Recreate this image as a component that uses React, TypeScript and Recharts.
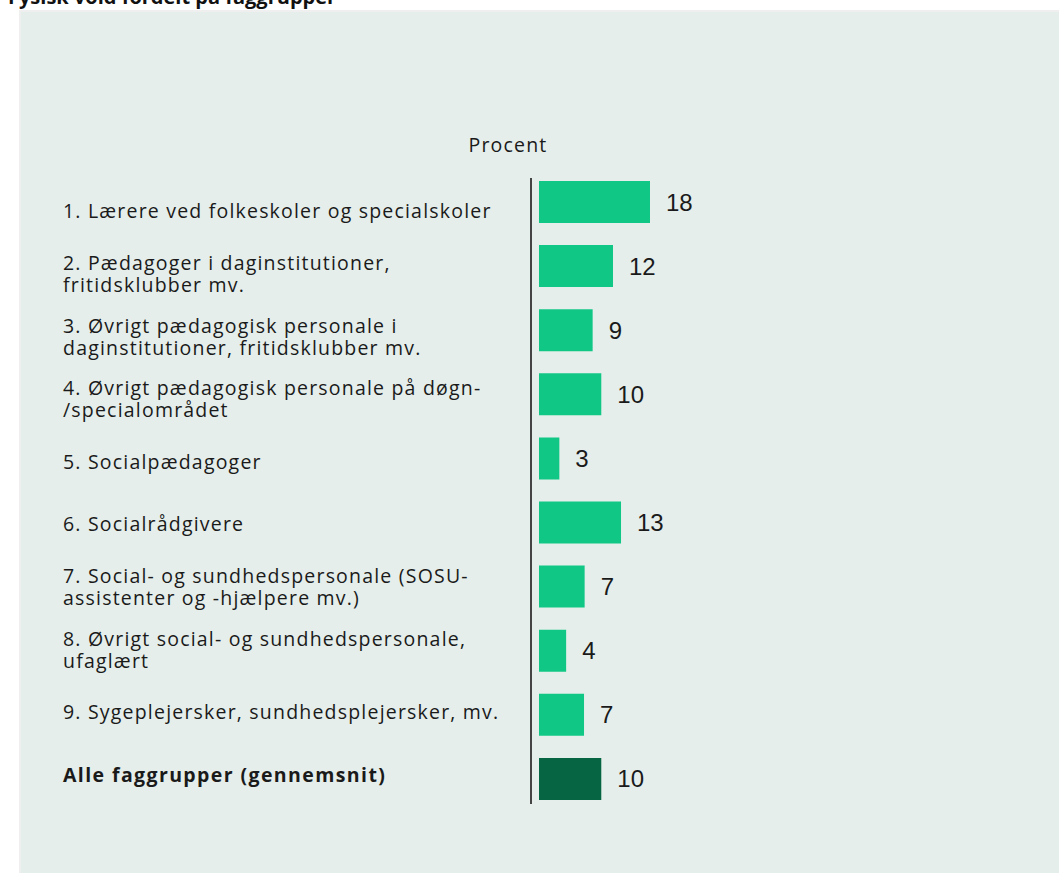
import { BarChart, Bar, XAxis, YAxis, Cell, LabelList } from "recharts";

const categories = [
  "1. Lærere ved folkeskoler og specialskoler",
  "2. Pædagoger i daginstitutioner,\nfritidsklubber mv.",
  "3. Øvrigt pædagogisk personale i\ndaginstitutioner, fritidsklubber mv.",
  "4. Øvrigt pædagogisk personale på døgn-\n/specialområdet",
  "5. Socialpædagoger",
  "6. Socialrådgivere",
  "7. Social- og sundhedspersonale (SOSU-\nassistenter og -hjælpere mv.)",
  "8. Øvrigt social- og sundhedspersonale,\nufaglært",
  "9. Sygeplejersker, sundhedsplejersker, mv.",
  "Alle faggrupper (gennemsnit)",
];

const values = [18.0, 12.0, 8.7, 10.1, 3.3, 13.3, 7.4, 4.4, 7.3, 10.1];

const valueLabels = ["18", "12", "9", "10", "3", "13", "7", "4", "7", "10"];

const data = categories.map((c, i) => ({
  name: c,
  value: values[i],
  label: valueLabels[i],
}));

const GREEN = "#10c785";
const DARK = "#066643";
const FONT = "'Open Sans', 'Noto Sans', sans-serif";

function CategoryTick(props: any) {
  const { y, payload, index } = props;
  const lines = String(payload.value).split("\n");
  const bold = index === categories.length - 1;
  const lh = 22;
  // labels sit on a slightly tighter grid than the bars
  const cy = 490.5 + (y - 490.5) * (62.6 / 64.1) + 2;
  const startY = cy - ((lines.length - 1) * lh) / 2;
  return (
    <g>
      {lines.map((l, i) => (
        <text
          key={i}
          x={63}
          y={startY + i * lh}
          textAnchor="start"
          dominantBaseline="central"
          fontFamily={FONT}
          fontSize={19.5}
          letterSpacing={bold ? 1.4 : 1.2}
          fontWeight={bold ? 700 : 400}
          fill="#1a1a1a"
        >
          {l}
        </text>
      ))}
    </g>
  );
}

export default function App() {
  return (
    <div style={{ position: "absolute", left: 0, top: 0, width: 1059, height: 873, background: "#fff", overflow: "hidden" }}>
      <div
        style={{
          position: "absolute",
          left: 8,
          top: -17,
          fontFamily: FONT,
          fontWeight: 700,
          fontSize: 20,
          color: "#111",
          whiteSpace: "nowrap",
        }}
      >
        Fysisk vold fordelt på faggrupper
      </div>
      <div
        style={{
          position: "absolute",
          left: 19,
          top: 10,
          width: 1040,
          height: 863,
          background: "#e5eeeb",
          borderTop: "2px solid #efefef",
          borderLeft: "2px solid #efefef",
          boxSizing: "border-box",
        }}
      />
      <div
        style={{
          position: "absolute",
          left: 438,
          top: 131,
          width: 140,
          textAlign: "center",
          fontFamily: FONT,
          fontSize: 19.5,
          letterSpacing: 1.2,
          color: "#1a1a1a",
        }}
      >
        Procent
      </div>
      <div
        style={{
          position: "absolute",
          left: 530,
          top: 178,
          width: 2,
          height: 626,
          background: "#444",
        }}
      />
      <div style={{ position: "absolute", left: 0, top: 0 }}>
        <BarChart
          width={1059}
          height={873}
          data={data}
          layout="vertical"
          margin={{ top: 170, right: 335, bottom: 62, left: 0 }}
        >
          <XAxis type="number" hide domain={[0, 30]} padding={{ left: 8, right: 0 }} />
          <YAxis
            type="category"
            dataKey="name"
            width={531}
            axisLine={false}
            tickLine={false}
            tick={<CategoryTick />}
            interval={0}
          />
          <Bar dataKey="value" barSize={42} isAnimationActive={false}>
            {data.map((d, i) => (
              <Cell key={i} fill={i === data.length - 1 ? DARK : GREEN} />
            ))}
            <LabelList
              dataKey="label"
              position="right"
              offset={16}
              fill="#1a1a1a"
              fontSize={24}
              fontFamily="'Liberation Sans', Arial, sans-serif"
            />
          </Bar>
        </BarChart>
      </div>
    </div>
  );
}
